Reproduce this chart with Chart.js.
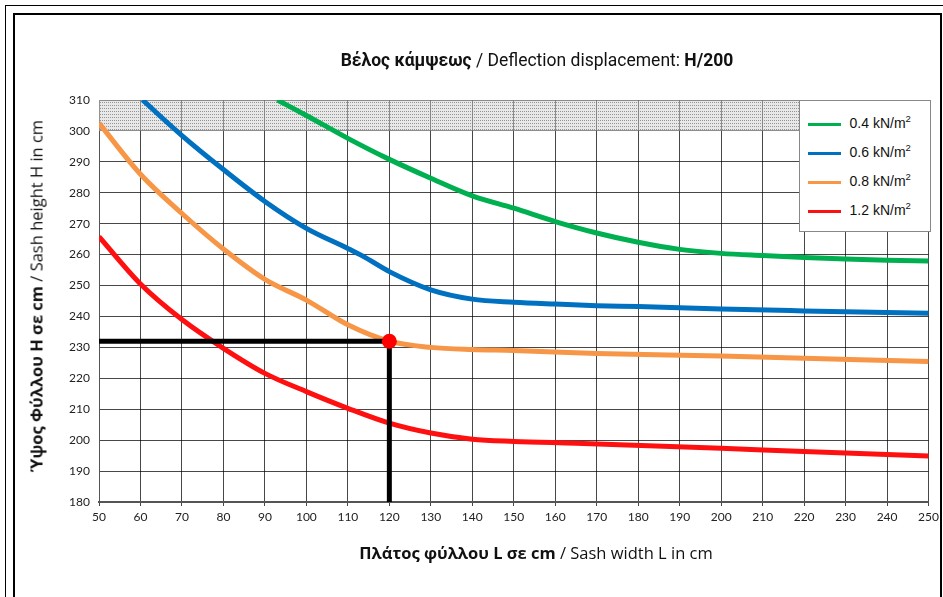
<!DOCTYPE html>
<html>
<head>
<meta charset="utf-8">
<script src="https://cdn.jsdelivr.net/npm/chart.js@4.4.1/dist/chart.umd.min.js"></script>
<style>
  html, body { margin: 0; padding: 0; background: #fff; }
  #page { position: relative; width: 943px; height: 597px; overflow: hidden; }
  #frameOuter { position: absolute; left: 5px; top: 5px; width: 960px; height: 620px; border: 1px solid #000; }
  #frameInner { position: absolute; left: 13px; top: 13px; width: 925px; height: 620px; border: 2px solid #000; }
  canvas { position: absolute; left: 0; top: 0; }
  .txt { position: absolute; white-space: nowrap; color: #111; }
  #title { font-family: Roboto, sans-serif; font-size: 17.5px; left: 537px; top: 50px; transform: translateX(-50%); }
  #xTitle { font-family: "Open Sans", sans-serif; font-size: 16.5px; left: 536px; top: 541px; transform: translateX(-50%); }
  #yTitle { font-family: "Open Sans", sans-serif; font-size: 16.5px; left: 36px; top: 296px; transform: translate(-50%, -50%) rotate(-90deg); }
  #legend { position: absolute; background: #fff; border: 1px solid #888; font-family: "Liberation Sans", Arial, sans-serif; font-size: 14px; color: #111; }
  .row { position: absolute; left: 8px; height: 16px; width: 120px; }
  .sw { position: absolute; left: 0; top: 8px; width: 33px; height: 3px; }
  .lab { position: absolute; left: 42px; top: 0; white-space: nowrap; }
  sup { font-size: 9.5px; vertical-align: 6px; line-height: 0; }
</style>
</head>
<body>
<div id="page">
  <div id="frameOuter"></div>
  <div id="frameInner"></div>
  <canvas id="chartCanvas" width="943" height="597"></canvas>
  <div class="txt" id="title"><b>Βέλος κάμψεως</b> / Deflection displacement: <b>H/200</b></div>
  <div class="txt" id="yTitle"><b>Ύψος Φύλλου Η σε cm</b> / Sash height H in cm</div>
  <div class="txt" id="xTitle"><b>Πλάτος φύλλου L σε cm</b> / Sash width L in cm</div>
  <div id="legend"></div>
</div>
<script>
// series (L in cm, H in cm)
const seriesNames = ['0.4', '0.6', '0.8', '1.2'];
const seriesColors = ['#00b050', '#0070c0', '#f79646', '#ff1010'];

const greenX = [93, 100, 110, 120, 130, 140, 150, 160, 170, 180, 190, 200, 210, 220, 230, 240, 250];
const greenY = [310, 305, 297.6, 290.8, 284.7, 279, 275, 270.7, 267, 264, 261.7, 260.4, 259.7, 259.1, 258.6, 258.2, 257.9];

const blueX = [60.5, 70, 80, 90, 100, 110, 113.5, 120, 130, 140, 150, 160, 170, 180, 200, 220, 250];
const blueY = [310, 298.5, 287.5, 277.2, 268.5, 262, 259.6, 254.5, 248.6, 245.6, 244.6, 244, 243.5, 243.2, 242.4, 241.8, 241];

const orangeX = [50, 60, 70, 80, 90, 100, 110, 120, 130, 140, 150, 170, 200, 250];
const orangeY = [302.5, 286, 273.3, 261.8, 252, 245.3, 237.3, 232, 230, 229.3, 229, 228, 227.2, 225.4];

const redX = [50, 60, 70, 80, 90, 100, 110, 120, 130, 140, 150, 165, 200, 220, 250];
const redY = [265.8, 250.5, 239, 229.7, 221.6, 215.7, 210.3, 205.5, 202.3, 200.3, 199.6, 199, 197.4, 196.3, 194.9];

// worked example: L = 120 cm gives H = 232 cm
const exampleL = 120;
const exampleH = 232;

// hatched zone (H above 300 cm)
const bandLow = 300;
const bandHigh = 310;

const xMin = 50, xMax = 250, xStep = 10;
const yMin = 180, yMax = 310, yStep = 10;

function toPoints(xs, ys) {
  return xs.map((x, i) => ({x: x, y: ys[i]}));
}

function makeHatch() {
  const c = document.createElement('canvas');
  c.width = 4;
  c.height = 3;
  const g = c.getContext('2d');
  g.fillStyle = 'rgba(210,210,210,0.5)';
  g.fillRect(0, 0, 4, 3);
  g.fillStyle = 'rgba(120,120,120,0.75)';
  g.fillRect(0, 0, 1, 1);
  g.fillRect(2, 0, 1, 1);
  return g.createPattern(c, 'repeat');
}

const ctx = document.getElementById('chartCanvas').getContext('2d');

const curveSets = [[greenX, greenY], [blueX, blueY], [orangeX, orangeY], [redX, redY]].map((s, i) => ({
  label: seriesNames[i] + ' kN/m²',
  data: toPoints(s[0], s[1]),
  borderColor: seriesColors[i],
  borderWidth: 5,
  pointRadius: 0,
  showLine: true,
  cubicInterpolationMode: 'monotone',
  order: 5,
}));

const datasets = [
  {
    label: 'band',
    data: [{x: xMin, y: bandHigh}, {x: xMax, y: bandHigh}],
    showLine: true,
    borderWidth: 0,
    borderColor: 'rgba(0,0,0,0)',
    pointRadius: 0,
    backgroundColor: makeHatch(),
    fill: {value: bandLow},
    order: 10,
  },
  ...curveSets,
  {
    label: 'h-ref',
    data: [{x: xMin, y: exampleH}, {x: exampleL, y: exampleH}],
    showLine: true,
    borderColor: '#000',
    borderWidth: 5,
    pointRadius: 0,
    order: 2,
  },
  {
    label: 'v-ref',
    data: [{x: exampleL, y: exampleH}, {x: exampleL, y: yMin}],
    showLine: true,
    borderColor: '#000',
    borderWidth: 5,
    pointRadius: 0,
    order: 2,
  },
  {
    label: 'point',
    data: [{x: exampleL, y: exampleH}],
    pointRadius: 7.5,
    pointBackgroundColor: '#ff0000',
    pointBorderColor: '#ff0000',
    pointBorderWidth: 0,
    order: 0,
  },
];

const tickFont = {family: 'Lato, sans-serif', size: 12};

const chart = new Chart(ctx, {
  type: 'scatter',
  data: {datasets: datasets},
  options: {
    responsive: false,
    animation: false,
    devicePixelRatio: 1,
    layout: {padding: {top: 100, right: 13, bottom: 65, left: 0}},
    plugins: {
      legend: {display: false},
      title: {display: false},
      tooltip: {enabled: false},
    },
    scales: {
      x: {
        type: 'linear',
        min: xMin,
        max: xMax,
        afterFit: scale => { scale.height = 30; },
        ticks: {stepSize: xStep, color: '#222', font: tickFont, padding: 4},
        grid: {color: 'rgba(0,0,0,0.72)', lineWidth: 1, tickLength: 4},
        border: {color: '#555', width: 2},
      },
      y: {
        type: 'linear',
        min: yMin,
        max: yMax,
        afterFit: scale => { scale.width = 99; },
        ticks: {stepSize: yStep, color: '#222', font: tickFont, padding: 9},
        grid: {color: 'rgba(0,0,0,0.72)', lineWidth: 1, drawTicks: false},
        border: {color: '#555', width: 1},
      },
    },
  },
});

// legend box in the top right corner of the plot
function renderLegend() {
  const area = chart.chartArea;
  const box = document.getElementById('legend');
  box.style.left = (area.right - 130) + 'px';
  box.style.top = area.top + 'px';
  box.style.width = '130px';
  box.style.height = '130px';
  box.innerHTML = '';
  seriesNames.forEach((name, i) => {
    const row = document.createElement('div');
    row.className = 'row';
    row.style.top = (14 + i * 29) + 'px';
    row.innerHTML = `<div class="sw" style="background:${seriesColors[i]}"></div>` +
      `<div class="lab">${name} kN/m<sup>2</sup></div>`;
    box.appendChild(row);
  });
}

renderLegend();
</script>
</body>
</html>
